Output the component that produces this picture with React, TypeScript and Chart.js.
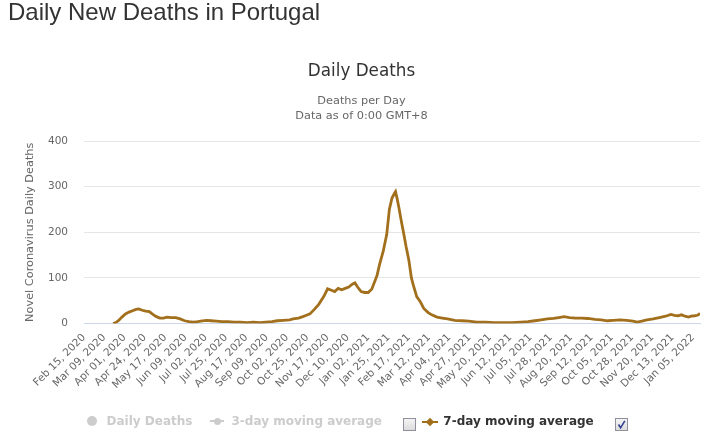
import React, { useEffect, useRef } from "react";
import { Chart, registerables } from "chart.js";

Chart.register(...registerables);

// ---- data ----
const pageTitle = "Daily New Deaths in Portugal";
const chartTitle = "Daily Deaths";
const chartSubtitle = ["Deaths per Day", "Data as of 0:00 GMT+8"];
const yAxisTitle = "Novel Coronavirus Daily Deaths";
const axisStart = "Feb 15, 2020";
const axisEnd = "Jan 13, 2022";
const yTicks = [0, 100, 200, 300, 400];

const tickLabels = [
  "Feb 15, 2020", "Mar 09, 2020", "Apr 01, 2020", "Apr 24, 2020", "May 17, 2020",
  "Jun 09, 2020", "Jul 02, 2020", "Jul 25, 2020", "Aug 17, 2020", "Sep 09, 2020",
  "Oct 02, 2020", "Oct 25, 2020", "Nov 17, 2020", "Dec 10, 2020", "Jan 02, 2021",
  "Jan 25, 2021", "Feb 17, 2021", "Mar 12, 2021", "Apr 04, 2021", "Apr 27, 2021",
  "May 20, 2021", "Jun 12, 2021", "Jul 05, 2021", "Jul 28, 2021", "Aug 20, 2021",
  "Sep 12, 2021", "Oct 05, 2021", "Oct 28, 2021", "Nov 20, 2021", "Dec 13, 2021",
  "Jan 05, 2022",
];

const dates7 = [
  "2020-03-19", "2020-03-22", "2020-03-25", "2020-03-29", "2020-04-02", "2020-04-06",
  "2020-04-10", "2020-04-14", "2020-04-17", "2020-04-21", "2020-04-25", "2020-04-29",
  "2020-05-03", "2020-05-07", "2020-05-11", "2020-05-15", "2020-05-19", "2020-05-24",
  "2020-05-29", "2020-06-03", "2020-06-08", "2020-06-13", "2020-06-18", "2020-06-23",
  "2020-06-28", "2020-07-03", "2020-07-08", "2020-07-14", "2020-07-20", "2020-07-27",
  "2020-08-03", "2020-08-10", "2020-08-18", "2020-08-25", "2020-09-01", "2020-09-08",
  "2020-09-15", "2020-09-21", "2020-09-28", "2020-10-05", "2020-10-09", "2020-10-15",
  "2020-10-20", "2020-10-24", "2020-10-28", "2020-11-02", "2020-11-07", "2020-11-13",
  "2020-11-17", "2020-11-20", "2020-11-25", "2020-11-29", "2020-12-03", "2020-12-07",
  "2020-12-11", "2020-12-15", "2020-12-18", "2020-12-21", "2020-12-25", "2020-12-29",
  "2021-01-02", "2021-01-06", "2021-01-10", "2021-01-12", "2021-01-15", "2021-01-19",
  "2021-01-23", "2021-01-26", "2021-01-29", "2021-02-01", "2021-02-02", "2021-02-04",
  "2021-02-06", "2021-02-09", "2021-02-11", "2021-02-14", "2021-02-17", "2021-02-20",
  "2021-02-22", "2021-02-26", "2021-03-02", "2021-03-06", "2021-03-11", "2021-03-15",
  "2021-03-21", "2021-03-27", "2021-04-02", "2021-04-10", "2021-04-18", "2021-04-26",
  "2021-05-05", "2021-05-15", "2021-05-25", "2021-06-04", "2021-06-14", "2021-06-24",
  "2021-07-02", "2021-07-10", "2021-07-17", "2021-07-24", "2021-07-31", "2021-08-06",
  "2021-08-12", "2021-08-18", "2021-08-25", "2021-09-01", "2021-09-08", "2021-09-16",
  "2021-09-23", "2021-09-30", "2021-10-07", "2021-10-14", "2021-10-22", "2021-10-29",
  "2021-11-03", "2021-11-08", "2021-11-14", "2021-11-21", "2021-11-28", "2021-12-05",
  "2021-12-11", "2021-12-15", "2021-12-19", "2021-12-23", "2021-12-27", "2021-12-31",
  "2022-01-03", "2022-01-07", "2022-01-10", "2022-01-13",
];

const avg7 = [
  0, 2, 6, 14, 21, 25,
  28, 31, 32, 29, 27, 26,
  20, 15, 12, 12, 14, 13,
  13, 10, 6, 4, 3, 4,
  6, 7, 6, 5, 4, 4,
  3, 3, 2, 3, 2, 3,
  4, 6, 7, 8, 10, 12,
  15, 18, 21, 31, 42, 60,
  76, 74, 70, 77, 74, 77,
  80, 86, 89, 80, 70, 68,
  68, 75, 95, 105, 130, 158,
  195, 250, 275, 286, 289, 272,
  252, 220, 200, 168, 140, 100,
  85, 59, 48, 33, 24, 19,
  14, 12, 10, 7, 6, 5,
  3, 3, 2, 2, 2, 3,
  4, 6, 8, 10, 11, 13,
  15, 13, 12, 12, 11, 9,
  8, 6, 7, 8, 7, 5,
  3, 5, 8, 10, 13, 16,
  20, 18, 17, 19, 16, 14,
  16, 17, 18, 22,
];

// ---- styles ----
const FONT = "'DejaVu Sans', Verdana, sans-serif";
const LINE = "#a26f1c";
const GREY = "#cccccc";

function CheckBox({ checked, left }: { checked: boolean; left: number }) {
  return (
    <div
      style={{
        position: "absolute",
        left,
        top: 418,
        width: 11,
        height: 11,
        border: "1px solid #8f8f9d",
        background: "linear-gradient(#f4f4f4, #dcdcdc)",
      }}
    >
      {checked && (
        <svg width="11" height="11" style={{ position: "absolute", left: 0, top: 0 }}>
          <path d="M2.5 5.5 L4.6 8.8 L8.8 1.8" stroke="#2f3f8f" strokeWidth="1.6" fill="none" />
        </svg>
      )}
    </div>
  );
}

export default function App() {
  const ref = useRef<HTMLCanvasElement>(null);

  useEffect(() => {
    const base = new Date(axisStart).getTime();
    const toDay = (d: Date) => Math.round((d.getTime() - base) / 864e5);
    const points = dates7.map((s, i) => ({ x: toDay(new Date(s + "T00:00:00")), y: avg7[i] }));
    const tickDays = tickLabels.map((l) => toDay(new Date(l)));
    const labelFor: Record<number, string> = {};
    tickDays.forEach((d, i) => (labelFor[d] = tickLabels[i]));
    const maxDay = toDay(new Date(axisEnd));

    const tickFont = { family: FONT, size: 10.5 };

    const chart = new Chart(ref.current!, {
      type: "line",
      data: {
        datasets: [
          {
            label: "7-day moving average",
            data: points,
            borderColor: LINE,
            backgroundColor: LINE,
            borderWidth: 2.8,
            pointRadius: 0,
            tension: 0,
            fill: false,
          },
        ],
      },
      options: {
        animation: false,
        responsive: false,
        maintainAspectRatio: false,
        layout: { padding: { left: 23, right: 23, top: 0, bottom: 0 } },
        plugins: {
          legend: { display: false },
          tooltip: { enabled: false },
          title: {
            display: true,
            text: chartTitle,
            color: "#333333",
            font: { family: FONT, size: 16.8, weight: "normal" },
            padding: { top: 62, bottom: 0 },
          },
          subtitle: {
            display: true,
            text: chartSubtitle,
            color: "#666666",
            font: { family: FONT, size: 11.3, lineHeight: 1.33 },
            padding: { top: 11.3, bottom: 17.5 },
          },
        },
        scales: {
          x: {
            type: "linear",
            min: 0,
            max: maxDay,
            afterBuildTicks: (s: any) => {
              s.ticks = tickDays.map((v) => ({ value: v }));
            },
            afterFit: (s: any) => {
              s.height = 116.5;
            },
            grid: { display: false, drawTicks: false },
            border: { display: true, color: "#ccd6eb", width: 1 },
            ticks: {
              autoSkip: false,
              minRotation: 45,
              maxRotation: 45,
              padding: 8,
              color: "#666666",
              font: tickFont,
              callback: (v: any) => labelFor[v] ?? "",
            },
          },
          y: {
            min: yTicks[0],
            max: yTicks[yTicks.length - 1],
            afterBuildTicks: (s: any) => {
              s.ticks = yTicks.map((v) => ({ value: v }));
            },
            afterFit: (s: any) => {
              s.width = 61;
            },
            grid: { color: "#e6e6e6", drawTicks: false },
            border: { display: false },
            ticks: { padding: 16, color: "#666666", font: tickFont },
            title: {
              display: true,
              text: yAxisTitle,
              color: "#666666",
              font: { family: FONT, size: 11.3 },
              padding: { top: 0.2, bottom: 0 },
            },
          },
        },
      },
    } as any);
    return () => chart.destroy();
  }, []);

  const legendText: React.CSSProperties = {
    position: "absolute",
    top: 414,
    fontFamily: FONT,
    fontSize: 12,
    fontWeight: "bold",
    lineHeight: "14px",
    whiteSpace: "nowrap",
  };

  return (
    <div style={{ position: "absolute", left: 0, top: 0, width: 723, height: 440, background: "#fff", overflow: "hidden" }}>
      <canvas
        ref={ref}
        width={723}
        height={440}
        style={{ position: "absolute", left: 0, top: 0, width: 723, height: 440, display: "block" }}
      />
      <div
        style={{
          position: "absolute",
          left: 8,
          top: -2,
          fontFamily: "'Liberation Sans', Arial, sans-serif",
          fontSize: 24,
          lineHeight: "28px",
          color: "#333333",
          whiteSpace: "nowrap",
        }}
      >
        {pageTitle}
      </div>
      {/* legend */}
      <div style={{ position: "absolute", left: 87, top: 416, width: 10, height: 10, borderRadius: 5, background: GREY }} />
      <div style={{ ...legendText, left: 106.5, color: GREY }}>Daily Deaths</div>
      <div style={{ position: "absolute", left: 210, top: 420, width: 14, height: 2, background: GREY }} />
      <div style={{ position: "absolute", left: 213.5, top: 417.5, width: 7, height: 7, borderRadius: 4, background: GREY }} />
      <div style={{ ...legendText, left: 231.5, color: GREY }}>3-day moving average</div>
      <CheckBox checked={false} left={403} />
      <div style={{ position: "absolute", left: 422, top: 421, width: 16, height: 2, background: LINE }} />
      <div
        style={{
          position: "absolute",
          left: 426.5,
          top: 419,
          width: 6,
          height: 6,
          background: LINE,
          transform: "rotate(45deg)",
        }}
      />
      <div style={{ ...legendText, left: 443.3, color: "#333333" }}>7-day moving average</div>
      <CheckBox checked={true} left={615} />
    </div>
  );
}
